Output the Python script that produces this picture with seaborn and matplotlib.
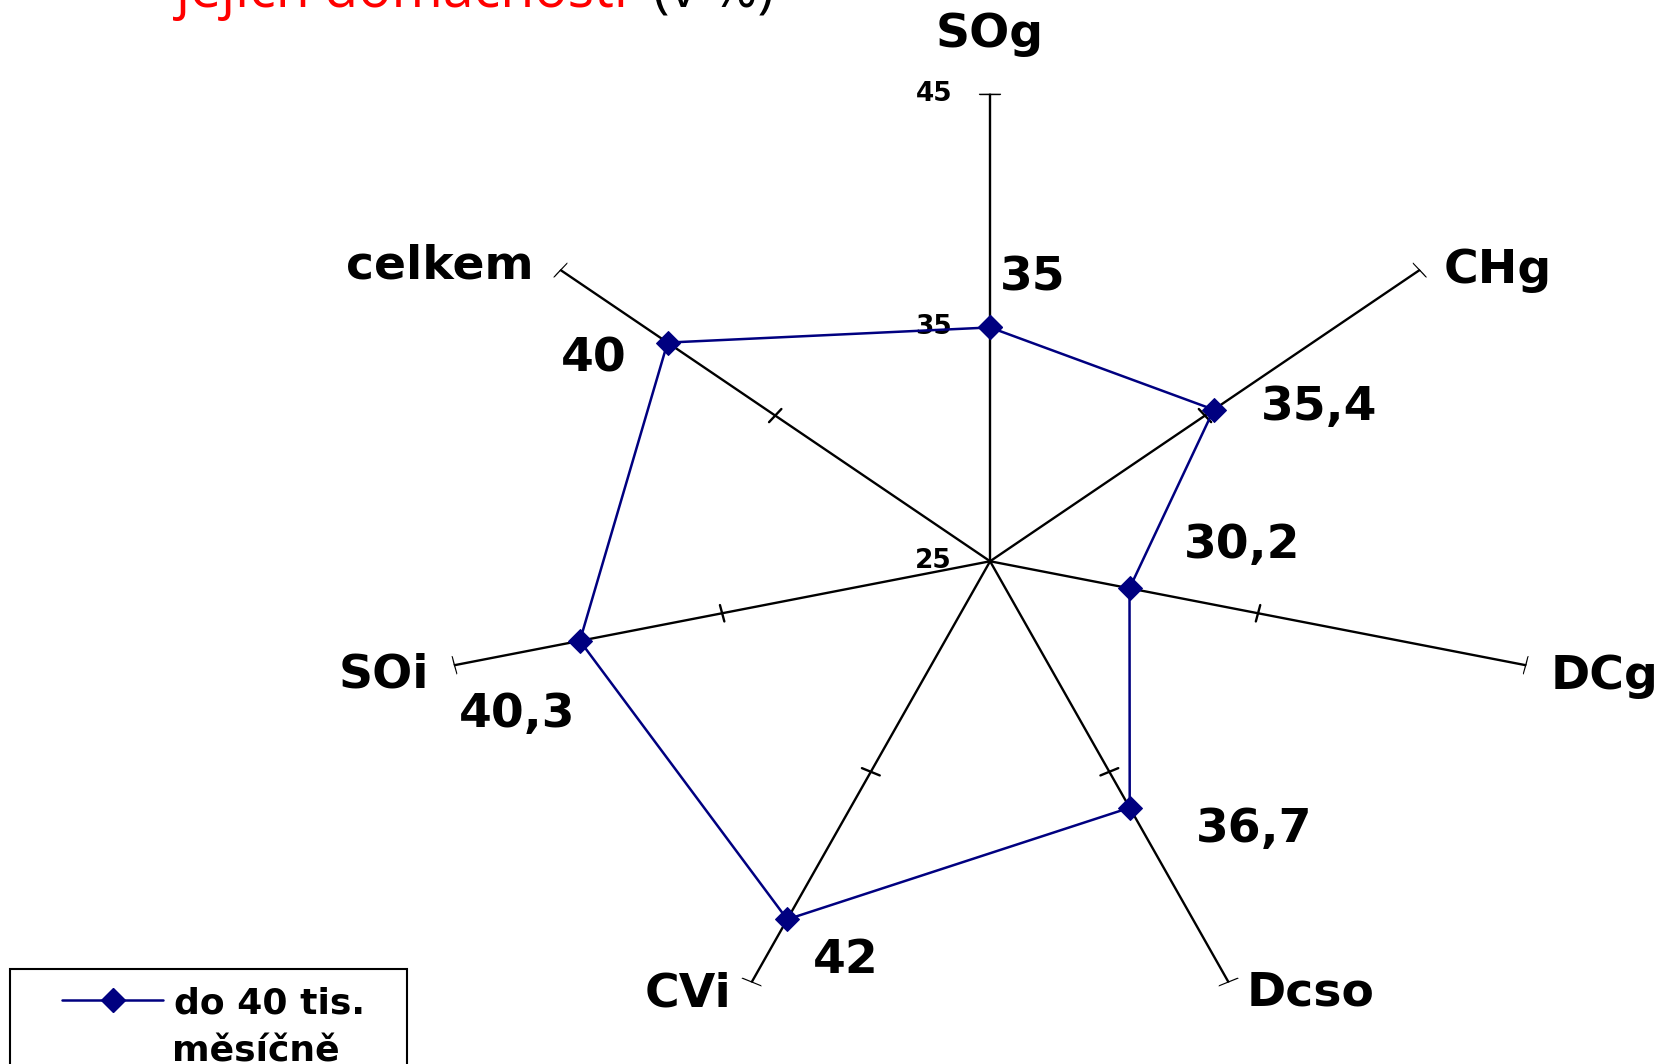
import numpy as np
import matplotlib
matplotlib.use("Agg")
import matplotlib.pyplot as plt
import seaborn as sns
from matplotlib.lines import Line2D
from matplotlib.patches import Rectangle

# data
categories = ["SOg", "CHg", "DCg", "Dcso", "CVi", "SOi", "celkem"]
values = [35, 35.4, 30.2, 36.7, 42, 40.3, 40]
value_labels = ["35", "35,4", "30,2", "36,7", "42", "40,3", "40"]
r_ticks = [25, 35, 45]
series_name = "do 40 tis."
series_name_2 = "měsíčně"

sns.set_theme(style="white")
plt.rcParams["font.family"] = ["DejaVu Sans"]
plt.rcParams["text.color"] = "black"

NAVY = "#000080"
bold = dict(family="DejaVu Sans", weight="bold", color="black")

fig = plt.figure(figsize=(16.65, 10.64), dpi=100)
ax = fig.add_axes([0.2643, 0.033, 0.6607, 0.879], projection="polar")
ax.set_theta_zero_location("N")
ax.set_theta_direction(-1)
ax.set_ylim(r_ticks[0], r_ticks[-1])
ax.set_aspect("auto")
ax.grid(False)
ax.spines["polar"].set_visible(False)
ax.set_xticks([])
ax.set_yticks([])
ax.set_facecolor("none")

angles = np.arange(len(categories)) * 2 * np.pi / len(categories)

# spokes with tick marks
for a in angles:
    ax.plot([a, a], [r_ticks[0], r_ticks[-1]], color="black", lw=1.7, zorder=1)
    for r in r_ticks[1:]:
        d = 0.36 / (r - r_ticks[0])
        ax.plot([a - d, a + d], [r, r], color="black", lw=1.7, zorder=1)

# radial tick labels on the top spoke
for r in r_ticks:
    ax.annotate(str(r), (0, r), xytext=(-38, 0), textcoords="offset pixels",
                ha="right", va="center", fontsize=19, **bold)

# data series
th = np.append(angles, angles[0])
vv = np.append(values, values[0])
sns.lineplot(x=th, y=vv, sort=False, estimator=None, ax=ax, color=NAVY, lw=1.8,
             marker="D", markersize=12, markeredgecolor=NAVY, zorder=3)

# value labels
val_off = [(43, 49), (105, 2), (113, 43), (124, -22), (59, -41), (-63, -74), (-74, -16)]
for a, v, lab, off in zip(angles, values, value_labels, val_off):
    ax.annotate(lab, (a, v), xytext=off, textcoords="offset pixels",
                ha="center", va="center", fontsize=34, **bold)

# category labels
cat_off = [(0, 47, "center"), (23, -13, "left"), (24, -24, "left"), (18, -23, "left"),
           (-20, -24, "right"), (-25, -22, "right"), (-26, -9, "right")]
for a, c, (dx, dy, ha) in zip(angles, categories, cat_off):
    ax.annotate(c, (a, r_ticks[-1]), xytext=(dx, dy), textcoords="offset pixels",
                ha=ha, va="baseline", fontsize=34, annotation_clip=False, **bold)

# title (cut off at the top)
fig.text(176 / 1665, 1 - 7 / 1064, "jejich domácnosti", color="red", fontsize=40,
         family="Open Sans", va="baseline", ha="left")
fig.text(653 / 1665, 1 - 7 / 1064, "(v %)", color="black", fontsize=40,
         family="Open Sans", va="baseline", ha="left")

# legend
handle = Line2D([], [], color=NAVY, lw=1.8, marker="D", markersize=12,
                markeredgecolor=NAVY)
fig.legend([handle], [series_name], loc="upper left",
           bbox_to_anchor=(62 / 1665, 1 - 986 / 1064), frameon=False, borderpad=0,
           borderaxespad=0, handlelength=2.8, handletextpad=0.3,
           prop=dict(family="DejaVu Sans", weight="bold", size=26))
fig.text(172 / 1665, 1 - 1062 / 1064, series_name_2, fontsize=26, va="baseline", **bold)
fig.add_artist(Rectangle((10 / 1665, -0.1), 397 / 1665, 0.1 + 1 - 969 / 1064,
                         transform=fig.transFigure, fill=False, edgecolor="black",
                         lw=1.5, clip_on=False))

fig.savefig("out.png", dpi=100)
